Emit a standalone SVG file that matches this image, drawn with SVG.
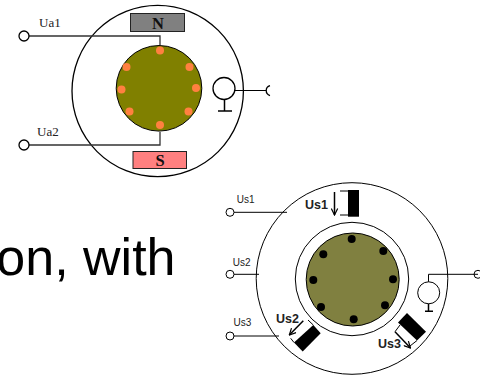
<svg xmlns="http://www.w3.org/2000/svg" width="480" height="375" viewBox="0 0 480 375">
<style>
.l{fill:none;stroke:#000;stroke-width:1}
.t{fill:none;stroke:#000;stroke-width:1.500}
.c{fill:#fff;stroke:#000;stroke-width:1}
.d{fill:#fff;stroke:#000;stroke-width:1.300}
.o{fill:#ff8040}
.b{fill:#000}
.w{fill:none;stroke:#333;stroke-width:1.300}
.sf{font-family:"Liberation Serif",serif;font-size:13px;fill:#222}
.ss{font-family:"Liberation Sans",sans-serif;font-size:10px;fill:#222}
.sb{font-family:"Liberation Sans",sans-serif;font-size:12.500px;font-weight:bold;fill:#222}
.m{font-family:"Liberation Serif",serif;font-size:16.500px;font-weight:bold;fill:#111;text-anchor:middle}
</style>
<defs>
<marker id="a" viewBox="0 0 10 10" refX="9" refY="5" markerWidth="8" markerHeight="8" markerUnits="userSpaceOnUse" orient="auto"><path d="M1 1L9 5L1 9" fill="none" stroke="#000" stroke-width="1.500"/></marker>
</defs>
<text id="caption" x="-3.700" y="275" font-family="Liberation Sans,sans-serif" font-size="52" fill="#000">on, with</text>
<g id="machine1">
<circle id="stator1" class="d" cx="157.700" cy="91" r="85.700"/>
<g id="poleN"><rect x="130.500" y="13.500" width="54" height="18" fill="#808080" stroke="#222" stroke-width="1"/><text class="m" x="158" y="28.500">N</text></g>
<g id="poleS"><rect x="133" y="151.500" width="53.500" height="17" fill="#ff8080" stroke="#222" stroke-width="1"/><text class="m" x="160" y="166">S</text></g>
<g id="rotor1"><circle cx="159" cy="88.300" r="42.800" fill="#808000" stroke="#000" stroke-width="1"/>
<circle class="o" cx="160" cy="50.500" r="4"/><circle class="o" cx="189.500" cy="67" r="4"/><circle class="o" cx="196" cy="88" r="4"/><circle class="o" cx="188.500" cy="111.500" r="4"/><circle class="o" cx="160" cy="125" r="4"/><circle class="o" cx="129.500" cy="111.500" r="4"/><circle class="o" cx="121.500" cy="89.500" r="4"/><circle class="o" cx="126.500" cy="67" r="4"/></g>
<g id="sensor1"><circle class="d" cx="224" cy="88.500" r="11"/></g>
</g>
<g id="connectors1">
<path class="w" d="M29 36H160V45"/>
<path class="w" d="M29 145H160V132"/>
<path class="t" d="M224.500 99.500V111M218 111H232"/>
<path class="l" d="M235 90.500H270"/>
</g>
<g id="Ua1"><circle class="d" cx="24" cy="36" r="5"/><text class="sf" x="39" y="27">Ua1</text></g>
<g id="Ua2"><circle class="d" cx="24" cy="145" r="5"/><text class="sf" x="37" y="135.700">Ua2</text></g>
<g id="out1"><path class="d" d="M270 85.500A5.200 5.200 0 0 0 270 95.500" fill="none"/></g>
<g id="machine2">
<circle id="stator2" class="c" cx="352" cy="278.500" r="95.800"/>
<circle id="bore" class="c" cx="352" cy="279" r="56.700"/>
<g id="rotor2"><circle cx="352.700" cy="279.500" r="46.500" fill="#808040" stroke="#000" stroke-width="1"/>
<circle class="b" cx="351.700" cy="239" r="4"/><circle class="b" cx="383.300" cy="251" r="4"/><circle class="b" cx="393" cy="279.300" r="4"/><circle class="b" cx="385" cy="305.300" r="4"/><circle class="b" cx="353.700" cy="319.300" r="4"/><circle class="b" cx="321" cy="307" r="4"/><circle class="b" cx="313.300" cy="280" r="4"/><circle class="b" cx="323.300" cy="254.300" r="4"/></g>
<g id="sensor2"><circle class="c" cx="428.700" cy="292.800" r="11"/></g>
<g id="winding1"><rect x="348" y="190" width="11" height="26.700" class="b"/><path class="l" d="M340 191H348M340 215H348"/><path class="t" d="M334.500 192V215" marker-end="url(#a)"/><text class="sb" x="305" y="209">Us1</text></g>
<g id="winding2"><polygon class="b" points="313.300,325 320.700,333.300 302.700,351.500 294,342.500"/><path class="l" d="M308 320L313.300 325M290.700 338.300L294 342.500"/><path class="t" d="M303.300 320.700L289.300 335" marker-end="url(#a)"/><text class="sb" x="276" y="322.700">Us2</text></g>
<g id="winding3"><polygon class="b" points="407,313 426,331.700 417,340.500 398,322.500"/><path class="l" d="M395 331.700L400 325M417 340.500L410 346"/><path class="t" d="M395 331.700L410.500 348" marker-end="url(#a)"/><text class="sb" x="378" y="348.300">Us3</text></g>
</g>
<g id="connectors2">
<path class="l" d="M234 212.300H287"/>
<path class="l" d="M234 274.300H259"/>
<path class="l" d="M234 336H279"/>
<path class="l" d="M428.500 281.800V274.300H478"/>
<path class="t" d="M428.500 303.800V311M425 311.200H433"/>
</g>
<g id="Us1"><circle class="c" cx="230" cy="212.300" r="4"/><text class="ss" x="236.700" y="203">Us1</text></g>
<g id="Us2"><circle class="c" cx="230" cy="274.300" r="4"/><text class="ss" x="232.700" y="266">Us2</text></g>
<g id="Us3"><circle class="c" cx="230" cy="336" r="4"/><text class="ss" x="233.500" y="325.700">Us3</text></g>
<g id="out2"><circle cx="478" cy="274.300" r="4" fill="none" stroke="#000" stroke-width="1"/></g>
</svg>
